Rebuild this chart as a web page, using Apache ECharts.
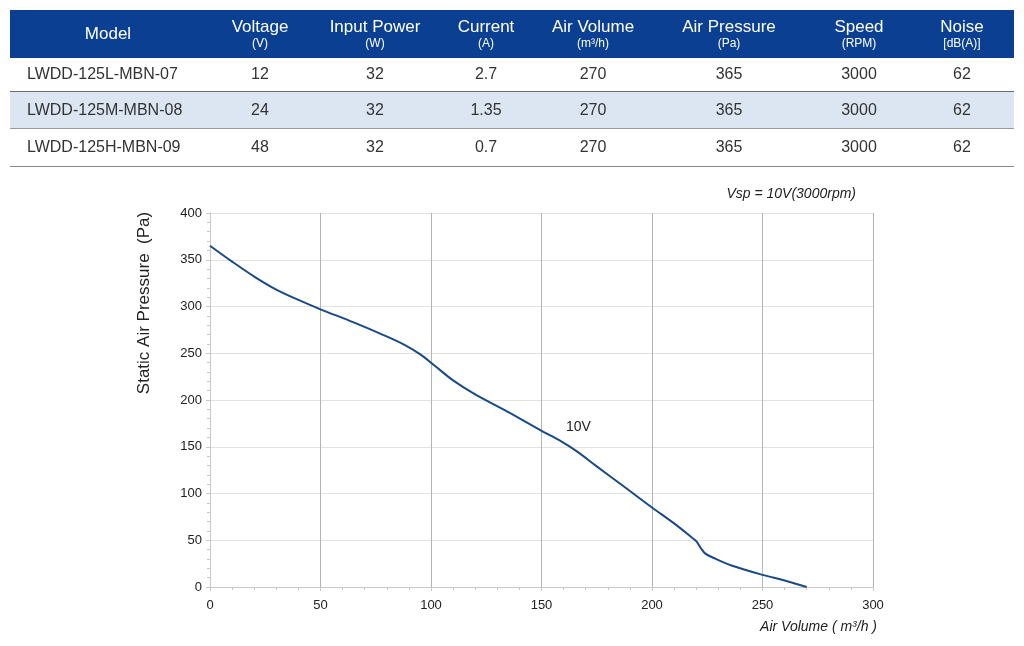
<!DOCTYPE html>
<html lang="en">
<head>
<meta charset="UTF-8">
<title>LWDD-125 fan curve</title>
<script src="https://cdn.jsdelivr.net/npm/echarts@6/dist/echarts.min.js"></script>
<style>
  html, body { margin: 0; padding: 0; background: #fff; }
  body { width: 1024px; height: 646px; position: relative; overflow: hidden;
         font-family: "Liberation Sans", Arial, sans-serif; }
  #chart { position: absolute; left: 0; top: 0; width: 1024px; height: 646px; }
  #spec { position: absolute; left: 10px; top: 10px; width: 1004px;
          border-collapse: collapse; table-layout: fixed; color: #333; }
  #spec th { background: #0b3f91; color: #fff; font-weight: normal; height: 48px;
             padding: 0; text-align: center; line-height: 18px; font-size: 17px; }
  #spec th small { display: block; font-size: 12px; line-height: 14px; }
  #spec td { text-align: center; font-size: 16px; padding: 0; border-bottom: 1px solid #6d6d6d; }
  #spec td:first-child { text-align: left; padding-left: 17px; }
  #spec tr.alt td { background: #dce6f2; border-bottom-color: #9a9a9a; }
  #spec tr.last td { border-bottom-color: #8a8a8a; }
</style>
</head>
<body>
<div id="chart"></div>
<table id="spec"></table>
<script>
  // spec table
  var headers = ['Model', 'Voltage', 'Input Power', 'Current', 'Air Volume', 'Air Pressure', 'Speed', 'Noise'];
  var units = ['', '(V)', '(W)', '(A)', '(m³/h)', '(Pa)', '(RPM)', '[dB(A)]'];
  var colWidths = [196, 108, 122, 100, 114, 158, 102, 104];
  var rowHeights = [33, 37, 38];
  var models = ['LWDD-125L-MBN-07', 'LWDD-125M-MBN-08', 'LWDD-125H-MBN-09'];
  var voltage = [12, 24, 48];
  var inputPower = [32, 32, 32];
  var current = [2.7, 1.35, 0.7];
  var airVolume = [270, 270, 270];
  var airPressure = [365, 365, 365];
  var speed = [3000, 3000, 3000];
  var noise = [62, 62, 62];

  // curve 10V, [air volume m3/h, static pressure Pa]
  var curveName = '10V';
  var curve10V = [
    [0, 365], [10, 348], [20, 332], [30, 318], [40, 307], [50, 297],
    [65, 283], [78, 270], [88, 259], [95, 249], [102, 236], [110, 221], [120, 206],
    [135, 187], [150, 167], [158, 157], [166, 145], [175, 129], [187, 108], [200, 85],
    [210, 68], [218, 53], [220, 49], [222, 42], [224, 36], [228, 31], [236, 23],
    [250, 13], [260, 7], [270, 0]
  ];
  var xTicks = [0, 50, 100, 150, 200, 250, 300];
  var yTicks = [0, 50, 100, 150, 200, 250, 300, 350, 400];

  var html = '<colgroup>';
  colWidths.forEach(function (w) { html += '<col style="width:' + w + 'px">'; });
  html += '</colgroup><tr>';
  headers.forEach(function (h, i) {
    html += '<th>' + h + (units[i] ? '<small>' + units[i] + '</small>' : '') + '</th>';
  });
  html += '</tr>';
  models.forEach(function (m, i) {
    var cells = [m, voltage[i], inputPower[i], current[i], airVolume[i], airPressure[i], speed[i], noise[i]];
    var cls = i === 1 ? ' class="alt"' : (i === models.length - 1 ? ' class="last"' : '');
    html += '<tr' + cls + ' style="height:' + rowHeights[i] + 'px">';
    cells.forEach(function (c) { html += '<td>' + c + '</td>'; });
    html += '</tr>';
  });
  document.getElementById('spec').innerHTML = html;

  var mychart = echarts.init(document.getElementById('chart'));
  var font = '"Liberation Sans", Arial, sans-serif';
  var option = {
    animation: false,
    grid: { left: 210, right: 151, top: 213, bottom: 59 },
    textStyle: { fontFamily: font },
    xAxis: {
      type: 'value',
      min: xTicks[0], max: xTicks[xTicks.length - 1], interval: 50,
      axisLine: { lineStyle: { color: '#c8c8c8' } },
      axisTick: { show: true, length: 4, lineStyle: { color: '#c8c8c8' } },
      minorTick: { show: true, splitNumber: 5, length: 3, lineStyle: { color: '#c8c8c8' } },
      axisLabel: { color: '#222', fontSize: 13, margin: 12 },
      splitLine: { show: true, lineStyle: { color: '#b4b4b4' } }
    },
    yAxis: {
      type: 'value',
      min: yTicks[0], max: yTicks[yTicks.length - 1], interval: 50,
      axisLine: { show: true, lineStyle: { color: '#c8c8c8' } },
      axisTick: { show: true, length: 4, lineStyle: { color: '#c8c8c8' } },
      minorTick: { show: true, splitNumber: 5, length: 3, lineStyle: { color: '#c8c8c8' } },
      axisLabel: { color: '#222', fontSize: 13, margin: 8 },
      splitLine: { show: true, lineStyle: { color: '#e2e2e2' } }
    },
    series: [{
      name: curveName,
      type: 'line',
      data: curve10V,
      smooth: 0.35,
      showSymbol: false,
      lineStyle: { color: '#1a4a86', width: 2 },
      markPoint: {
        symbol: 'circle', symbolSize: 0,
        data: [{ coord: [166.7, 170.5] }],
        label: { show: true, formatter: curveName, color: '#222', fontSize: 14, fontFamily: font }
      }
    }],
    graphic: [
      {
        type: 'text', right: 168, top: 187,
        style: { text: 'Vsp = 10V(3000rpm)', fill: '#222', font: 'italic 14px ' + font }
      },
      {
        type: 'text', right: 147, top: 620,
        style: { text: 'Air Volume ( m³/h )', fill: '#222', font: 'italic 14px ' + font }
      },
      {
        type: 'text', x: 136, y: 303, rotation: Math.PI / 2,
        style: { text: 'Static Air Pressure  (Pa)', fill: '#222', font: '17px ' + font,
                 textAlign: 'center', textVerticalAlign: 'top' }
      }
    ]
  };
  mychart.setOption(option);
</script>
</body>
</html>
